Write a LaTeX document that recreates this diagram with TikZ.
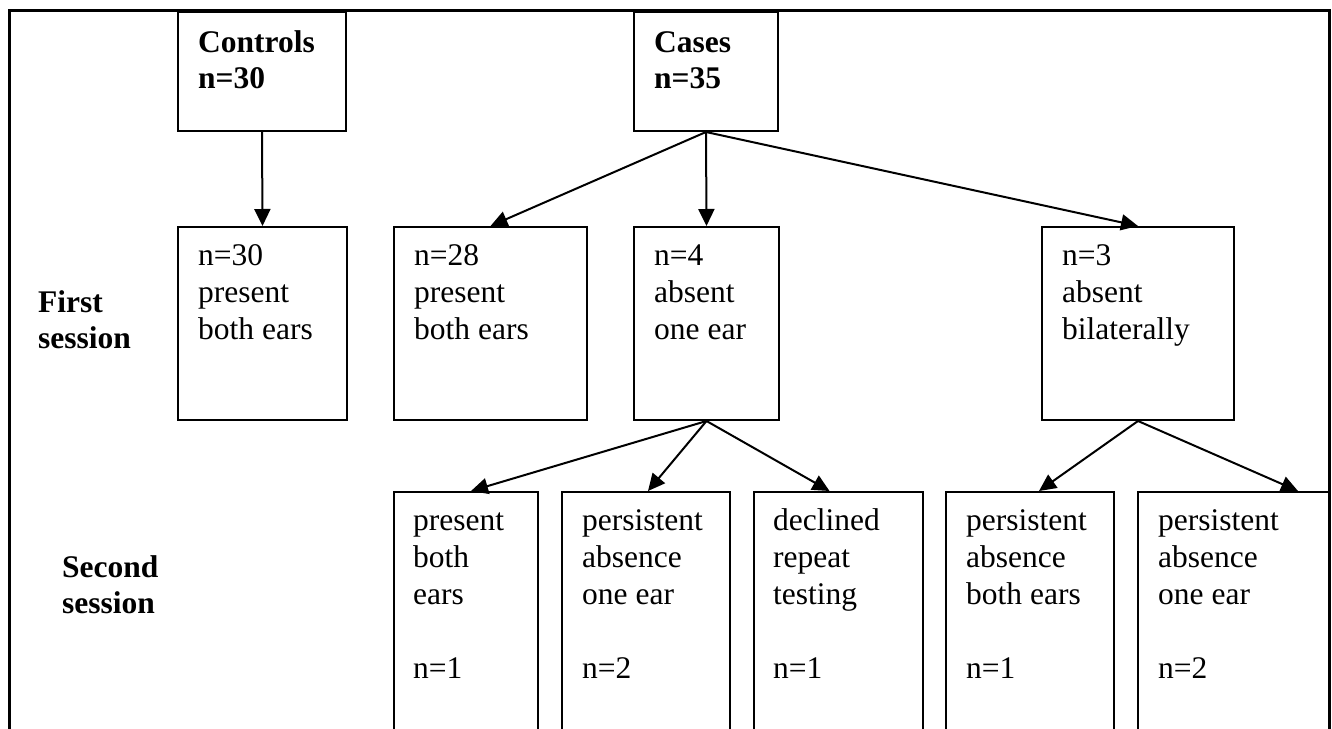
\documentclass[tikz,border=0pt]{standalone}
\usepackage{fontspec}
\setmainfont{Liberation Serif}
\usetikzlibrary{arrows.meta}
% box with its corners given as (left,top) and (right,bottom)
\newcommand\mkbox[5]{\node[box,anchor=north west,minimum width=#4-#2,minimum height=#5-#3] (#1) at (#2,#3) {};}
\begin{document}
\begin{tikzpicture}[x=1pt,y=-1pt,
  frame/.style={draw=black,line width=3pt},
  box/.style={draw=black,line width=2pt,inner sep=0pt,rectangle},
  txt/.style={inner sep=0pt,anchor=north west,align=left,font=\fontsize{31.5}{37}\selectfont},
  hd/.style={inner sep=0pt,anchor=north west,align=left,font=\fontsize{31.5}{36.5}\selectfont\bfseries},
  link/.style={line width=2pt,-{Triangle[length=17pt,width=16pt]}}]
\useasboundingbox (0,0) rectangle (1332,728);
\clip (0,0) rectangle (1332,728);

% outer frame (runs past the lower edge)
\draw[frame] (9,10) rectangle (1329,760);

% groups
\mkbox{ctrl}{177}{11}{345}{130}
\mkbox{cases}{633}{11}{777}{130}
% first session
\mkbox{fa}{177}{226}{346}{419}
\mkbox{fb}{393}{226}{586}{419}
\mkbox{fc}{633}{226}{778}{419}
\mkbox{fd}{1041}{226}{1233}{419}
% second session
\mkbox{sa}{393}{491}{537}{760}
\mkbox{sb}{561}{491}{729}{760}
\mkbox{sc}{753}{491}{922}{760}
\mkbox{sd}{945}{491}{1113}{760}
\mkbox{se}{1137}{491}{1329}{760}

% texts
\node[hd] (ctrl-t) at ([shift={(21,15.5)}]ctrl.north west) {\strut Controls\\n=30};
\node[hd] (cases-t) at ([shift={(21,15.5)}]cases.north west) {\strut Cases\\n=35};
\node[txt] (fa-t) at ([shift={(21,13)}]fa.north west) {\strut n=30\\present\\both ears};
\node[txt] (fb-t) at ([shift={(21,13)}]fb.north west) {\strut n=28\\present\\both ears};
\node[txt] (fc-t) at ([shift={(21,13)}]fc.north west) {\strut n=4\\absent\\one ear};
\node[txt] (fd-t) at ([shift={(21,13)}]fd.north west) {\strut n=3\\absent\\bilaterally};
\node[txt] (sa-t) at ([shift={(20,13)}]sa.north west) {\strut present\\both\\ears\\[37pt]n=1};
\node[txt] (sb-t) at ([shift={(21,13)}]sb.north west) {\strut persistent\\absence\\one ear\\[37pt]n=2};
\node[txt] (sc-t) at ([shift={(20,13)}]sc.north west) {\strut declined\\repeat\\testing\\[37pt]n=1};
\node[txt] (sd-t) at ([shift={(21,13)}]sd.north west) {\strut persistent\\absence\\both ears\\[37pt]n=1};
\node[txt] (se-t) at ([shift={(21,13)}]se.north west) {\strut persistent\\absence\\one ear\\[37pt]n=2};

% row labels
\node[hd] (first) at (38,286.5) {\strut First\\session};
\node[hd] (second) at (62,551.5) {\strut Second\\session};

% connectors
\draw[link] (ctrl.south) -- (fa.north);
\draw[link] (cases.south) -- (fb.north);
\draw[link] (cases.south) -- (fc.north);
\draw[link] (cases.south) -- (fd.north);
\draw[link] (fc.south) -- ([xshift=5pt]sa.north);
\draw[link] (fc.south) -- ([xshift=2pt]sb.north);
\draw[link] (fc.south) -- ([xshift=-9pt]sc.north);
\draw[link] (fd.south) -- ([xshift=9pt]sd.north);
\draw[link] (fd.south) -- ([xshift=64pt]se.north);
\end{tikzpicture}
\end{document}
